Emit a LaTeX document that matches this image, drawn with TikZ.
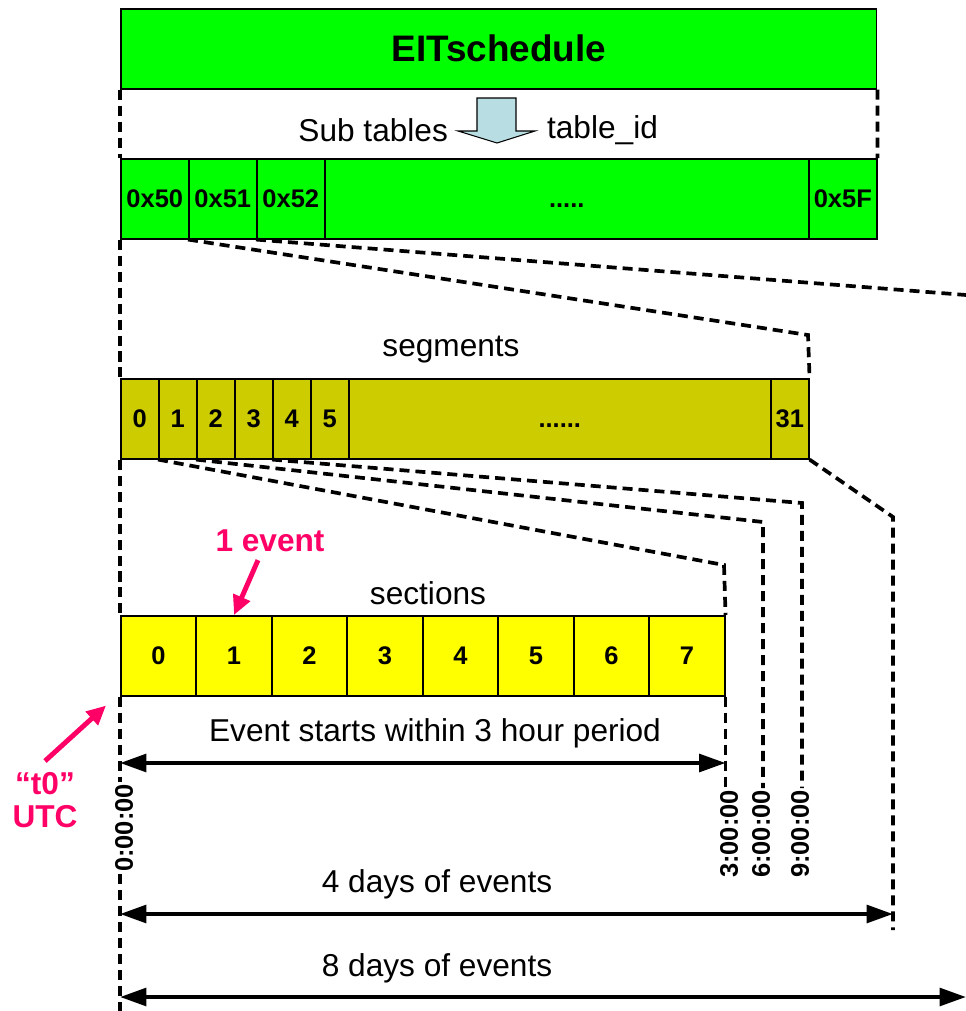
\documentclass[tikz,border=0pt]{standalone}
\usepackage{fontspec}
\setmainfont{Liberation Sans}
\usetikzlibrary{arrows.meta,calc}
\definecolor{TableClr}{rgb}{0,1,0}
\definecolor{SegClr}{rgb}{0.8,0.8,0}
\definecolor{SecClr}{rgb}{1,1,0}
\definecolor{ArrowClr}{rgb}{0.72,0.87,0.89}
\definecolor{NoteClr}{rgb}{1,0,0.4}

\begin{document}
\begin{tikzpicture}[x=0.02cm,y=-0.02cm,
  box/.style={draw,line width=0.9pt,anchor=north west,inner sep=0pt,minimum height=1.6cm},
  tabcell/.style={box,fill=TableClr,minimum width=1.36cm,font=\bfseries\fontsize{14.5}{16}\selectfont},
  segcell/.style={box,fill=SegClr,minimum width=0.76cm,font=\bfseries\fontsize{14.5}{16}\selectfont},
  seccell/.style={box,fill=SecClr,minimum width=1.51cm,font=\bfseries\fontsize{14.5}{16}\selectfont},
  lbl/.style={inner sep=1pt,font=\fontsize{18}{19}\selectfont},
  tick/.style={rotate=90,inner sep=1pt,font=\bfseries\fontsize{14.5}{16}\selectfont},
  link/.style={line width=2.1pt,dash pattern=on 5.7pt off 3.4pt},
  span/.style={line width=2.3pt,>={Triangle[length=15pt,width=10pt]},<->},
  note/.style={line width=2.8pt,color=NoteClr,>={Triangle[length=11pt,width=10pt]},->}]
\useasboundingbox (0,0) rectangle (966,1011);

\node[tabcell,minimum width=15.12cm,font=\bfseries\fontsize{21}{24}\selectfont] (eit) at (120,8) {EITschedule};
\node[lbl,anchor=east] (sub) at (450,130) {Sub tables};
\node[lbl,anchor=west] (tid) at (545,130) {table\_id};
\draw[fill=ArrowClr,line width=0.6pt] (477,98) -- (516,98) -- (516,131) -- (535,131) -- (497,143) -- (458,131) -- (477,131) -- cycle;

\foreach \n [count=\i from 0] in {50,51,52}
  \node[tabcell] (t\n) at ({120+68*\i},158) {0x\n};
\node[tabcell,minimum width=9.68cm] (tdots) at (324,158) {\vphantom{0}.....};
\node[tabcell] (t5F) at (808,158) {0x5F};

\node[lbl] (seg) at (451,350) {segments};
\foreach \i in {0,...,5}
  \node[segcell] (g\i) at ({120+38*\i},378) {\i};
\node[segcell,minimum width=8.44cm] (gdots) at (348,378) {\vphantom{0}......};
\node[segcell] (g31) at (770,378) {31};

\node[lbl] (sec) at (428,593) {sections};
\foreach \i in {0,...,7}
  \node[seccell] (c\i) at ({120+75.5*\i},615) {\i};

\node[tick] (h0) at (124,828) {0:00:00};
\node[tick,anchor=east] (h3) at (729,788) {3:00:00};
\node[tick,anchor=east] (h6) at (761,788) {6:00:00};
\node[tick,anchor=east] (h9) at (800,788) {9:00:00};

\coordinate (b51) at (808,335);
\coordinate (b52) at (966,295);
\coordinate (b1) at (724,565);
\coordinate (b2) at (763,522);
\coordinate (b4) at (802,503);
\coordinate (b31) at (893,517);
\coordinate (e31) at (893,930);
\coordinate (e0) at (120,1011);

\draw[link] (eit.south west) -- (t50.north west);
\draw[link] (eit.south east) -- (t5F.north east);
\draw[link] (t50.south west) -- (g0.north west);
\draw[link] (t51.south west) -- (b51) -- (g31.north east);
\draw[link] (t52.south west) -- (b52);
\draw[link] (g0.south west) -- (c0.north west);
\draw[link] (g1.south west) -- (b1) -- (c7.north east);
\draw[link] (g2.south west) -- (b2) -- (b2 |- h6.east);
\draw[link] (g4.south west) -- (b4) -- (b4 |- h9.east);
\draw[link] (g31.south east) -- (b31) -- (e31);
\draw[link] (c7.south east) -- (c7.south east |- h3.east);
\draw[link] (c0.south west) -- (c0.south west |- h0.east);
\draw[link] (c0.south west |- h0.west) -- (e0);

\node[lbl] (p3) at (435,733) {Event starts within 3 hour period};
\draw[span] (c0.south west |- 0,763) -- (c7.south east |- 0,763);
\node[lbl] (d4) at (437,884) {4 days of events};
\draw[span] (c0.south west |- 0,914) -- (e31 |- 0,914);
\node[lbl] (d8) at (437,968) {8 days of events};
\draw[span] (c0.south west |- 0,997) -- (b52 |- 0,997);

\node[lbl,text=NoteClr,font=\bfseries\fontsize{18}{19}\selectfont] (ev) at (270,541) {1 event};
\draw[note] ([xshift=-0.24cm,yshift=-0.12cm]ev.south) -- (c1.north);
\node[lbl,text=NoteClr,align=center,font=\bfseries\fontsize{18}{19}\selectfont] (utc) at (45,800) {“t0”\\UTC};
\draw[note] ([yshift=0.18cm]utc.north) -- ([xshift=-0.28cm,yshift=-0.18cm]c0.south west);

\end{tikzpicture}
\end{document}
